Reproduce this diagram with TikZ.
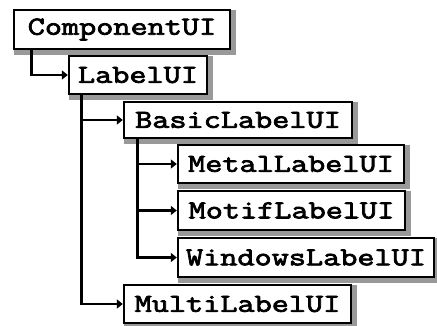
\documentclass[tikz,border=0pt]{standalone}
\usepackage{fontspec}
\usetikzlibrary{arrows.meta,backgrounds}
% heavy, slightly widened typewriter face for the class names
\newfontfamily\clsfont{Latin Modern Mono}[AutoFakeBold=3, FakeStretch=1.28]
\begin{document}
\begin{tikzpicture}[x=1pt,y=-1pt,
  cls/.style={draw=black, line width=2.4pt, fill=white, inner sep=0pt,
    font=\clsfont\bfseries\fontsize{26}{26}\selectfont},
  boxshadow/.style={fill=black!40},
  conn/.style={line width=2.8pt, -{Triangle[length=6pt,width=9pt]}}]
\useasboundingbox (0,0) rectangle (437,325);
\node[cls, minimum width=216pt, minimum height=39pt] (cu) at (122,29.5) {ComponentUI};
\node[cls, minimum width=138pt, minimum height=38pt] (lu) at (138,75) {LabelUI};
\node[cls, minimum width=228pt, minimum height=36pt] (bl) at (238,120) {BasicLabelUI};
\node[cls, minimum width=226pt, minimum height=38pt] (me) at (291,164) {MetalLabelUI};
\node[cls, minimum width=227pt, minimum height=39pt] (mo) at (291.5,210.5) {MotifLabelUI};
\node[cls, minimum width=256pt, minimum height=39pt] (wi) at (306,257.5) {WindowsLabelUI};
\node[cls, minimum width=227pt, minimum height=38pt] (mu) at (237.5,304) {MultiLabelUI};
% drop shadows behind the boxes
\begin{scope}[on background layer]
  \foreach \n in {cu,lu,bl,me,mo,wi,mu}
    \fill[boxshadow] ([shift={(1,1)}]\n.north west) rectangle ([shift={(4.5,4.5)}]\n.south east);
\end{scope}
% inheritance connectors
\draw[conn] ([xshift=19pt]cu.south west) |- (lu.west);
\draw[conn] ([xshift=14pt]lu.south west) |- (bl.west);
\draw[conn] ([xshift=14pt]lu.south west) |- (mu.west);
\draw[conn] ([xshift=15pt]bl.south west) |- (me.west);
\draw[conn] ([xshift=15pt]bl.south west) |- (mo.west);
\draw[conn] ([xshift=15pt]bl.south west) |- (wi.west);
\end{tikzpicture}
\end{document}
